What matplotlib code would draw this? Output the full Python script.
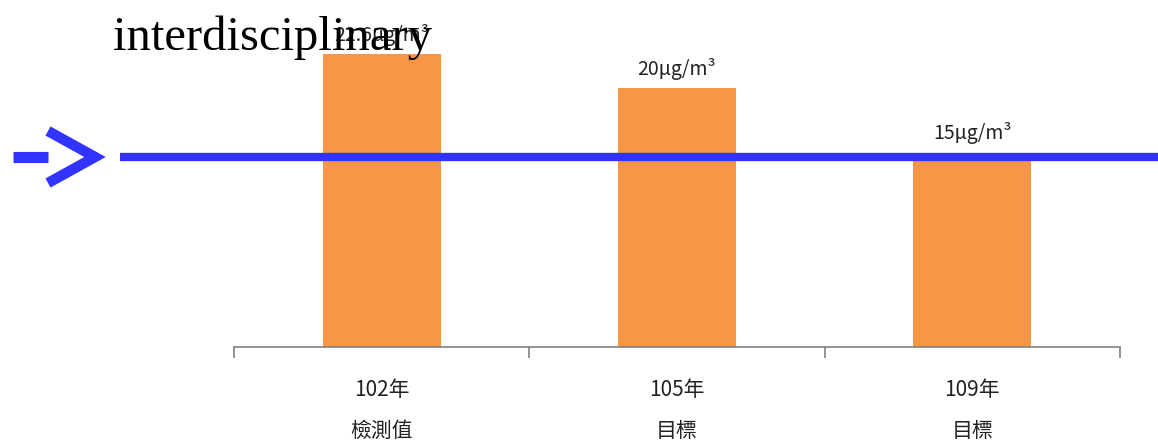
import matplotlib
matplotlib.use("Agg")
import matplotlib.pyplot as plt
from matplotlib.lines import Line2D
import matplotlib.transforms as mtransforms

plt.rcParams['font.family'] = ['Noto Sans CJK TC', 'DejaVu Sans']

# data
years = ["102年", "105年", "109年"]
kinds = ["檢測值", "目標", "目標"]
values = [22.6, 20, 15]
value_labels = ["22.6μg/m³", "20μg/m³", "15μg/m³"]
target_level = 14.7
title_text = "interdisciplinary"

W, H = 1158, 443
fig = plt.figure(figsize=(W / 100, H / 100), dpi=100)
ax = fig.add_axes([234 / W, 1 - 347 / H, (1120 - 234) / W, 347 / H])

x = list(range(len(values)))
bars = ax.bar(x, values, width=0.4, color="#F79646", zorder=2)
ax.set_xlim(-0.5, len(values) - 0.5)
ax.set_ylim(0, 26.8)

for b, lab in zip(bars, value_labels):
    ax.annotate(lab, (b.get_x() + b.get_width() / 2, b.get_height()),
                xytext=(0, 6), textcoords="offset points",
                ha="center", va="bottom", fontsize=14, color="#222222", zorder=3)

for s in ["top", "right", "left"]:
    ax.spines[s].set_visible(False)
ax.spines["bottom"].set_color("#808080")
ax.spines["bottom"].set_linewidth(1.2)
ax.set_yticks([])
ax.set_xticks([i - 0.5 for i in range(len(values) + 1)])
ax.set_xticklabels([])
ax.tick_params(axis="x", direction="out", length=8, color="#808080", width=1.2)

for i, (yr, kd) in enumerate(zip(years, kinds)):
    tr = mtransforms.blended_transform_factory(ax.transData, fig.transFigure)
    ax.text(i, 1 - 390 / H, yr, transform=tr, ha="center", va="center",
            fontsize=15, color="#222222")
    ax.text(i, 1 - 431 / H, kd, transform=tr, ha="center", va="center",
            fontsize=15, color="#222222")

# blue target line
blue = "#3333FF"
trl = mtransforms.blended_transform_factory(fig.transFigure, ax.transData)
ax.plot([120 / W, 1.0], [target_level, target_level], transform=trl,
        color=blue, lw=6, clip_on=False, solid_capstyle="butt", zorder=4)

# arrow marker "->"
fig.add_artist(Line2D([13 / W, 48 / W], [1 - 157 / H, 1 - 157 / H],
                      color=blue, lw=8, solid_capstyle="butt"))
fig.add_artist(Line2D([48 / W, 95 / W, 48 / W],
                      [1 - 131 / H, 1 - 157 / H, 1 - 183 / H],
                      color=blue, lw=7.5, solid_capstyle="butt",
                      solid_joinstyle="miter"))

fig.text(113 / W, 1 - 50 / H, title_text, fontsize=35,
         family=["Liberation Serif"], ha="left", va="baseline", color="black",
         zorder=10)

fig.savefig("out.png", dpi=100)
